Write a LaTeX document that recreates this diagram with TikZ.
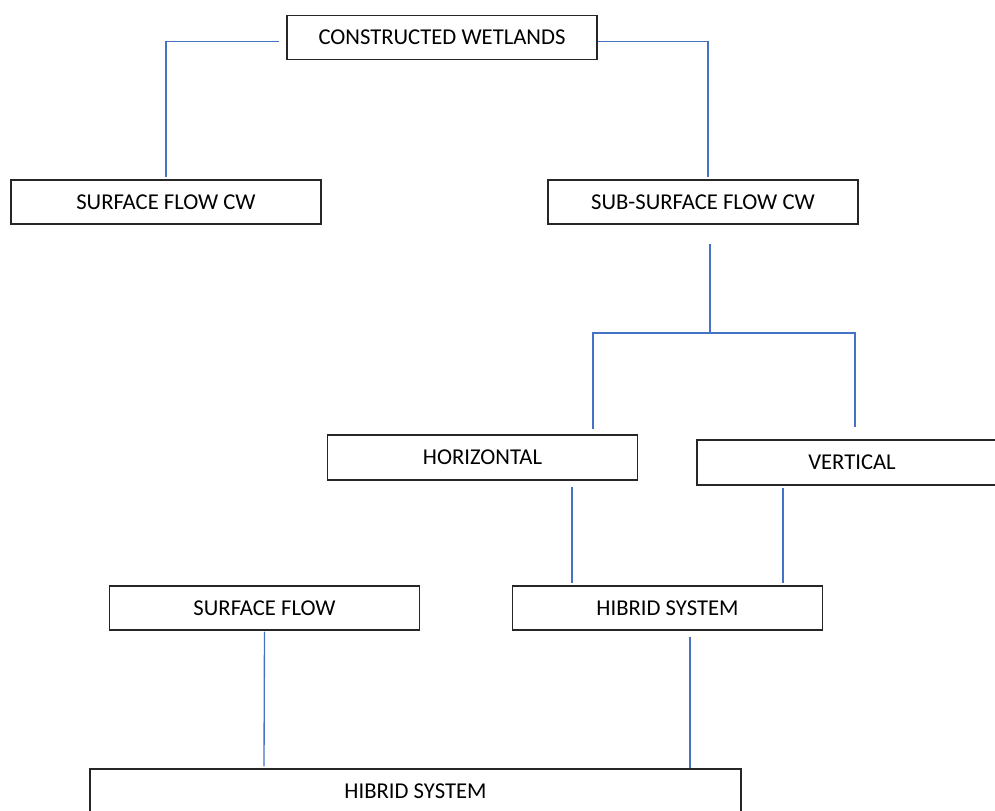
\documentclass[tikz,border=0pt]{standalone}
\usepackage{fontspec}
\setmainfont{Carlito}
\usepackage{tikz}
\usetikzlibrary{calc}

\definecolor{linkblue}{RGB}{68,114,196}

\begin{document}
\begin{tikzpicture}[x=0.75pt, y=-0.75pt,
		    nodes={draw=black!85, line width=1.1pt, minimum width=232.5pt,
			   minimum height=33pt, inner sep=0pt,
			   font=\fontsize{17}{20}\selectfont},
		    link/.style={draw=linkblue, line width=1pt}]
 \useasboundingbox (0,0) rectangle (995,810);

 \node (wetlands) at (442,37.5) {CONSTRUCTED WETLANDS};
 \node (surfcw) at (166,202) {SURFACE FLOW CW};
 \node (subsurf) at (703,202) {SUB-SURFACE FLOW CW};
 \node [minimum height=34pt] (horiz) at (482.5,457.5) {HORIZONTAL};
 \node [minimum height=34pt] (vert) at (852,462.5) {VERTICAL};
 \node (surfflow) at (264.5,608) {SURFACE FLOW};
 \node (hibrid) at (667.5,608) {HIBRID SYSTEM};
 \node [minimum width=488pt] (hibridall) at (415.5,791) {HIBRID SYSTEM};

 \coordinate (subfork) at (710,333);
 \coordinate (horizend) at ($(horiz.north)+(110.5,-5)$);
 \coordinate (vertend) at ($(vert.north)+(3,-12)$);

 % top level
 \draw[link] ($(wetlands.west)+(-7,4)$) -| ($(surfcw.north)+(0,-2)$);
 \draw[link] ($(wetlands.east)+(0,4)$) -| ($(subsurf.north)+(5,-2)$);

 % sub-surface branches
 \draw[link] ($(subsurf.south)+(7,19)$) -- (subfork);
 \draw[link] (horizend) -- (horizend |- subfork)
	     -- (vertend |- subfork) -- (vertend);

 % to hibrid system
 \draw[link] ($(horiz.south)+(89.5,6)$) -- ($(hibrid.north)+(-95.5,-2)$);
 \draw[link] ($(vert.south)+(-69,2)$) -- ($(hibrid.north)+(115.5,-2)$);

 % bottom
 \draw[link] ($(surfflow.south)+(0,1)$) -- ($(hibridall.north)+(-151.5,-2)$);
 \draw[link] ($(hibrid.south)+(22.5,6)$) -- ($(hibridall.north)+(274.5,0)$);
\end{tikzpicture}
\end{document}
